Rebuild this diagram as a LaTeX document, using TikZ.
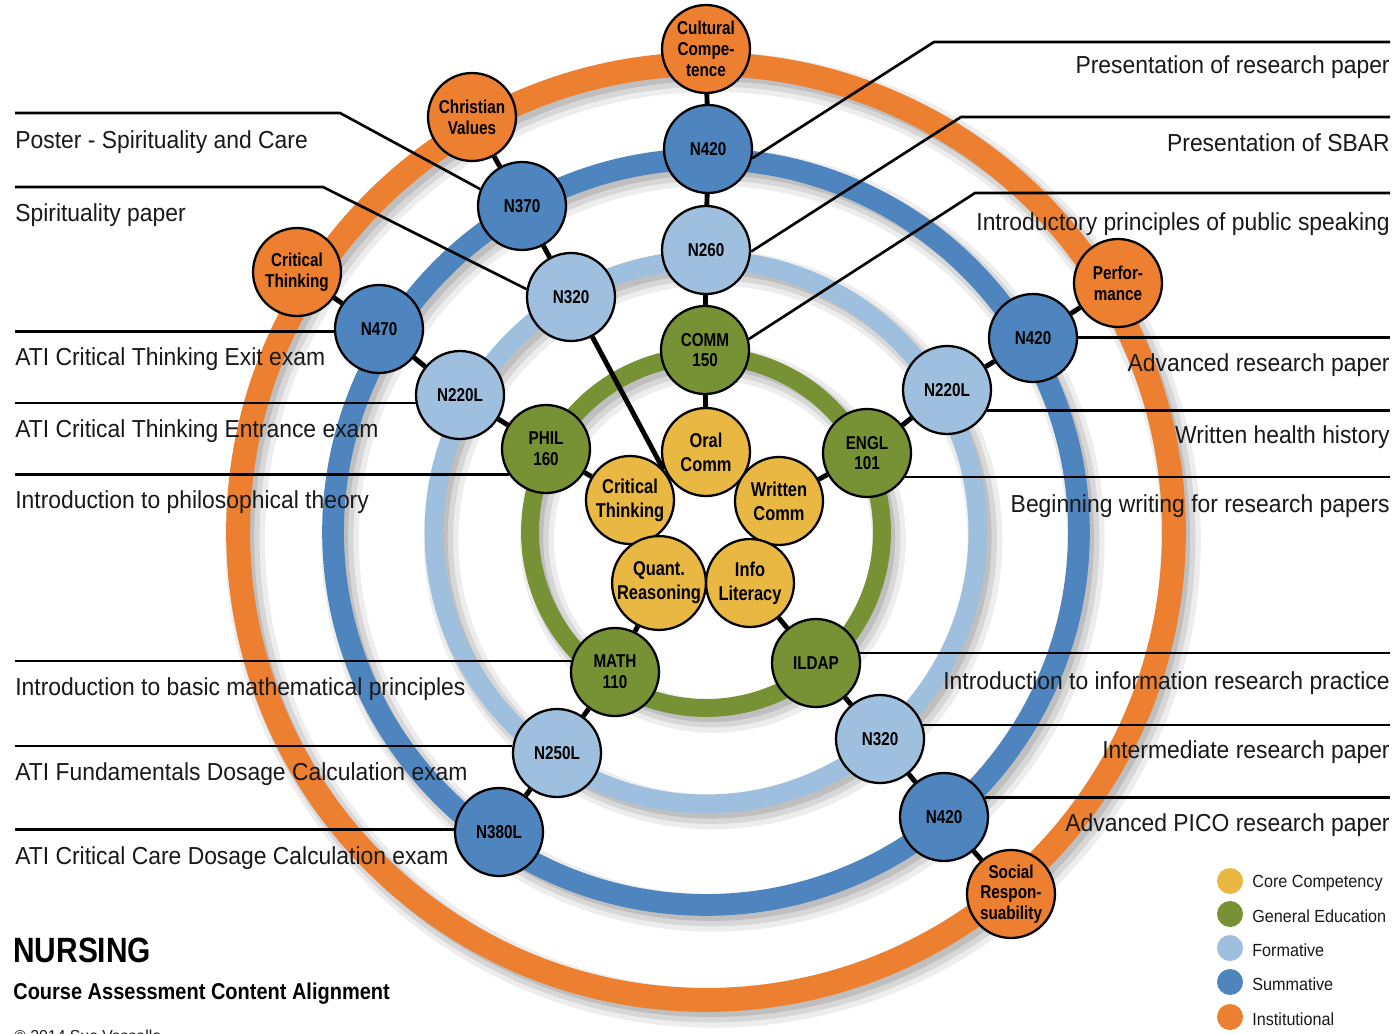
\documentclass[tikz,border=0pt]{standalone}
\usepackage{fontspec}
\setmainfont{Liberation Sans}
\newfontfamily\lblfont[FakeStretch=0.93]{Liberation Sans}
\newfontfamily\nodefont[FakeStretch=0.82]{Liberation Sans}
\newfontfamily\legfont[FakeStretch=0.92]{Liberation Sans}
\newfontfamily\ttlfont[FakeStretch=0.85]{Liberation Sans}
\newfontfamily\subfont[FakeStretch=0.875]{Liberation Sans}
\usetikzlibrary{calc}
\definecolor{orng}{RGB}{236,127,48}
\definecolor{dblue}{RGB}{78,133,191}
\definecolor{lblue}{RGB}{158,192,222}
\definecolor{grn}{RGB}{119,146,52}
\definecolor{gold}{RGB}{232,184,66}
\definecolor{txt}{RGB}{25,25,25}
\pgfdeclarelayer{bg}
\pgfdeclarelayer{lines}
\pgfsetlayers{bg,lines,main}
\begin{document}
\begin{tikzpicture}[x=0.02cm,y=-0.02cm,
  bubble/.style={circle,draw=black,line width=1.3pt,minimum size=1.76cm,inner sep=0pt,align=center,text=black,
    font=\nodefont\bfseries\fontsize{10.6}{11.8}\selectfont},
  core/.style={bubble,fill=gold,font=\nodefont\bfseries\fontsize{11.4}{13.6}\selectfont},
  gen/.style={bubble,fill=grn},
  form/.style={bubble,fill=lblue},
  summ/.style={bubble,fill=dblue},
  inst/.style={bubble,fill=orng},
  link/.style={line width=2.8pt,black},
  lead/.style={line width=1.5pt,black},
  lbl/.style={font=\lblfont\fontsize{14}{16}\selectfont,text=txt,inner sep=0pt},
  leg/.style={font=\legfont\fontsize{10}{12}\selectfont,text=txt,inner sep=0pt,anchor=west}
]
\useasboundingbox (0,0) rectangle (1396,1034);
\coordinate (cen) at (706,532);
\coordinate (lx) at (15,0);
\coordinate (rx) at (1390,0);
\begin{pgfonlayer}{bg}
  \fill[white] (0,0) rectangle (1396,1034);
  \foreach \r/\w/\c in {9.36/13.6/orng, 7.46/12.4/dblue, 5.44/10.8/lblue, 3.52/10.2/grn} {
    \draw[black,opacity=0.07,line width=\w pt+9pt] ($(cen)+(7,8)$) circle[radius=\r cm];
    \draw[black,opacity=0.09,line width=\w pt+4pt] ($(cen)+(6,7)$) circle[radius=\r cm];
    \draw[black,opacity=0.11,line width=\w pt-1pt] ($(cen)+(5,6)$) circle[radius=\r cm];
    \draw[\c,line width=\w pt] (cen) circle[radius=\r cm];
  }
\end{pgfonlayer}

% nodes
\node[inst] (cc) at (706,49) {Cultural\\Compe-\\tence};
\node[summ] (n420t) at (708,149) {N420};
\node[form] (n260) at (706,250) {N260};
\node[gen] (comm) at (705,350) {COMM\\150};
\node[core] (oral) at (706,452) {Oral\\Comm};

\node[inst] (cv) at (472,117) {Christian\\Values};
\node[summ] (n370) at (522,206) {N370};
\node[form] (n320l) at (571,297) {N320};

\node[inst] (cto) at (297,272) {Critical\\Thinking};
\node[summ] (n470) at (379,329) {N470};
\node[form] (n220l) at (460,395) {N220L};
\node[gen] (phil) at (546,449) {PHIL\\160};
\node[core] (ct) at (630,500) {Critical\\Thinking};

\node[inst] (perf) at (1118,283) {Perfor-\\mance};
\node[summ] (n420r) at (1033,338) {N420};
\node[form] (n220r) at (947,390) {N220L};
\node[gen] (engl) at (867,453) {ENGL\\101};
\node[core] (wc) at (779,501) {Written\\Comm};

\node[inst] (soc) at (1011,894) {Social\\Respon-\\suability};
\node[summ] (n420b) at (944,817) {N420};
\node[form] (n320r) at (880,739) {N320};
\node[gen] (ildap) at (816,663) {ILDAP};
\node[core] (info) at (750,583) {Info\\Literacy};

\node[summ] (n380) at (499,832) {N380L};
\node[form] (n250) at (557,753) {N250L};
\node[gen] (math) at (615,672) {MATH\\110};
\node[core] (qr) at (659,583) {Quant.\\Reasoning};

% label texts
\node[lbl,anchor=base west] (tl1) at (15,149) {Poster - Spirituality and Care};
\node[lbl,anchor=base west] (tl2) at (15,221) {Spirituality paper};
\node[lbl,anchor=base west] (tl3) at (15,365) {ATI Critical Thinking Exit exam};
\node[lbl,anchor=base west] (tl4) at (15,437) {ATI Critical Thinking Entrance exam};
\node[lbl,anchor=base west] (tl5) at (15,508) {Introduction to philosophical theory};
\node[lbl,anchor=base west] (tl6) at (15,695) {Introduction to basic mathematical principles};
\node[lbl,anchor=base west] (tl7) at (15,780) {ATI Fundamentals Dosage Calculation exam};
\node[lbl,anchor=base west] (tl8) at (15,864) {ATI Critical Care Dosage Calculation exam};

\node[lbl,anchor=base east] (tr1) at (1390,74) {Presentation of research paper};
\node[lbl,anchor=base east] (tr2) at (1390,152) {Presentation of SBAR};
\node[lbl,anchor=base east] (tr3) at (1390,230) {Introductory principles of public speaking};
\node[lbl,anchor=base east] (tr4) at (1390,371) {Advanced research paper};
\node[lbl,anchor=base east] (tr5) at (1390,443) {Written health history};
\node[lbl,anchor=base east] (tr6) at (1390,512) {Beginning writing for research papers};
\node[lbl,anchor=base east] (tr7) at (1390,689) {Introduction to information research practice};
\node[lbl,anchor=base east] (tr8) at (1390,758) {Intermediate research paper};
\node[lbl,anchor=base east] (tr9) at (1390,831) {Advanced PICO research paper};

% title
\node[font=\ttlfont\bfseries\fontsize{20}{24}\selectfont,text=black,inner sep=0pt,anchor=base west] (title) at (13,962) {NURSING};
\node[font=\subfont\bfseries\fontsize{13}{16}\selectfont,text=black,inner sep=0pt,anchor=base west] (subtitle) at (13,999) {Course Assessment Content Alignment};
\node[font=\fontsize{9}{11}\selectfont,text=txt,inner sep=0pt,anchor=base west] (copy) at (14,1041) {© 2014 Sue Vassallo};

% legend
\foreach \y/\c/\t [count=\i] in {881/gold/Core Competency, 914/grn/General Education, 948/lblue/Formative, 982/dblue/Summative, 1017/orng/Institutional} {
  \node[circle,fill=\c,minimum size=0.52cm,inner sep=0pt] (legc\i) at (1230,\y) {};
  \node[leg] (legt\i) at (1252,\y+2) {\t};
}

% connectors and leader lines
\begin{pgfonlayer}{lines}
  \draw[link] (cc) -- (n420t) -- (n260) -- (comm) -- (oral);
  \draw[link] (cv) -- (n370) -- (n320l);
  \draw[link] (n320l) -- (ct.42);
  \draw[link] (cto) -- (n470) -- (n220l) -- (phil) -- (ct);
  \draw[link] (perf) -- (n420r) -- (n220r) -- (engl) -- (wc);
  \draw[link] (soc) -- (n420b) -- (n320r) -- (ildap) -- (info);
  \draw[link] (n380) -- (n250) -- (math) -- (qr);

  \coordinate (k1) at (340,113);
  \coordinate (k2) at (323,187);
  \draw[lead] (n370.158) -- (k1) -- (k1 -| lx);
  \draw[lead] (n320l.170) -- (k2) -- (k2 -| lx);
  \draw[lead] (n470.183) -- (n470.183 -| lx);
  \draw[lead] (n220l.190) -- (n220l.190 -| lx);
  \draw[lead] (phil.214) -- (phil.214 -| lx);
  \draw[lead] (math.166) -- (math.166 -| lx);
  \draw[lead] (n250.171) -- (n250.171 -| lx);
  \draw[lead] (n380.177) -- (n380.177 -| lx);

  \coordinate (k3) at (934,42);
  \coordinate (k4) at (961,117);
  \coordinate (k5) at (975,193);
  \draw[lead] (n420t.-12) -- (k3) -- (k3 -| rx);
  \draw[lead] (n260.-2) -- (k4) -- (k4 -| rx);
  \draw[lead] (comm.14) -- (k5) -- (k5 -| rx);
  \draw[lead] (n420r.1) -- (n420r.1 -| rx);
  \draw[lead] (n220r.333) -- (n220r.333 -| rx);
  \draw[lead] (engl.328) -- (engl.328 -| rx);
  \draw[lead] (ildap.13) -- (ildap.13 -| rx);
  \draw[lead] (n320r.18) -- (n320r.18 -| rx);
  \draw[lead] (n420b.26) -- (n420b.26 -| rx);
\end{pgfonlayer}
\end{tikzpicture}
\end{document}
